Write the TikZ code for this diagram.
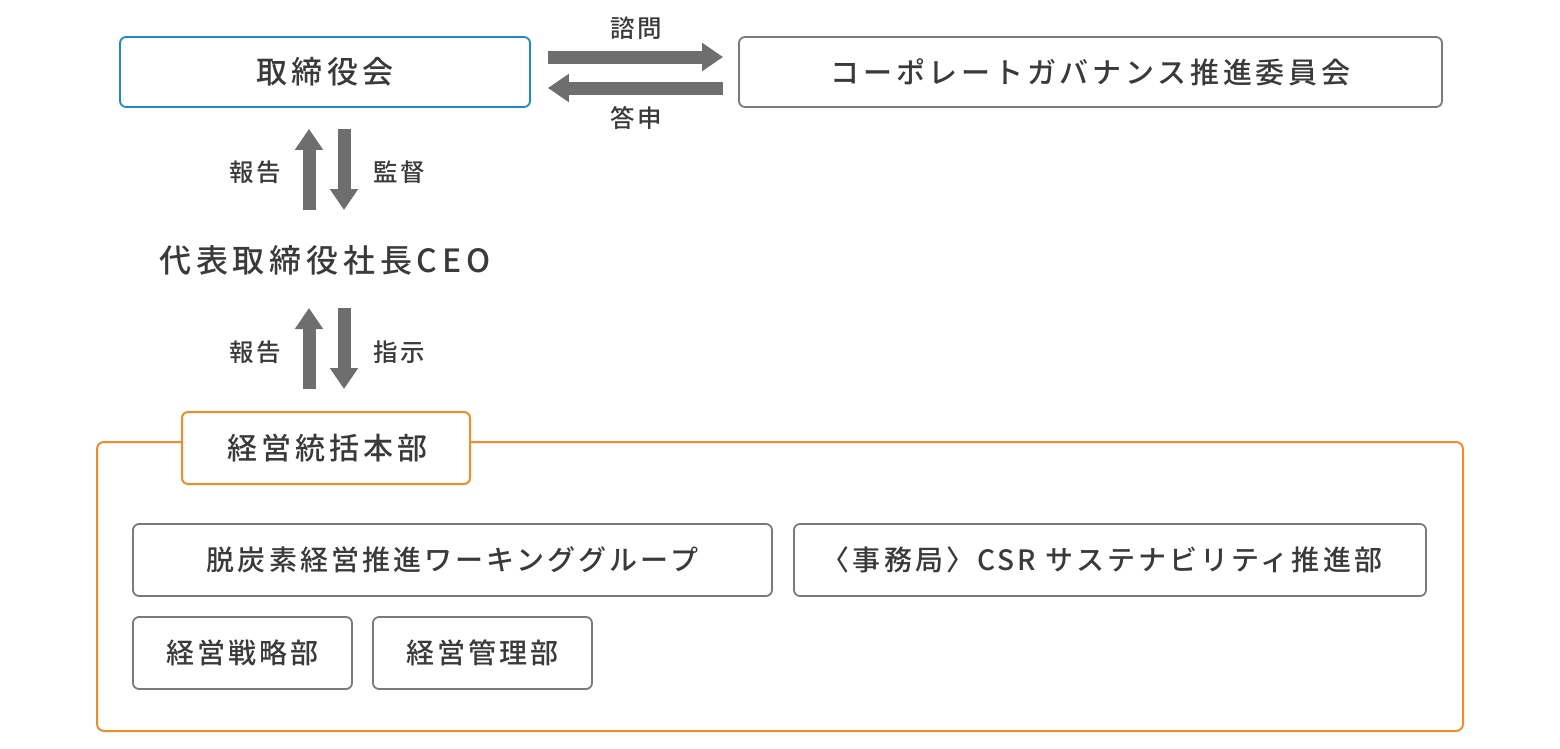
\documentclass[tikz,border=0pt]{standalone}
\usepackage{fontspec}
\setmainfont{Noto Sans CJK JP}[UprightFont=* Medium]
\newfontfamily\jpf{Noto Sans CJK JP}[UprightFont=* Medium]
\usetikzlibrary{arrows.meta,calc}
\definecolor{txt}{HTML}{3A3A3A}
\definecolor{bordergray}{HTML}{7A7A7A}
\definecolor{arrowgray}{HTML}{6E6E6E}
\definecolor{blueb}{HTML}{1E88C8}
\definecolor{orangeb}{HTML}{F08C2C}
\newcommand\jfont[2]{\jpf\addfontfeatures{LetterSpace=#2}\fontsize{#1}{#1}\selectfont}
\begin{document}
\begin{tikzpicture}[x=1pt,y=-1pt,
  box/.style={draw=bordergray, line width=1.8pt, rounded corners=6pt, minimum height=72pt, inner sep=0pt, text=txt, fill=white, font=\jfont{28pt}{11}},
  sbox/.style={box, font=\jfont{28pt}{11}},
  lbl/.style={text=txt, inner sep=0pt, font=\jfont{24.5pt}{10}},
  fat/.style={draw=arrowgray, line width=13pt, -{Triangle[length=21pt,width=27pt]}},
  ]
\useasboundingbox (0,0) rectangle (1560,748);
% top boxes
\node[box, draw=blueb, minimum width=410pt, minimum height=70pt, font=\jfont{31pt}{13}] (tb) at (325,72) {取締役会};
\node[box, minimum width=703pt, minimum height=70pt, font=\jfont{29pt}{13}] (cg) at (1090.5,72) {コーポレートガバナンス推進委員会};
\draw[fat] ($(tb.east)+(17,-15)$) -- ($(cg.west)+(-15,-15)$);
\draw[fat] ($(cg.west)+(-15,16)$) -- ($(tb.east)+(17,16)$);
\node[lbl] (q1) at (636,28) {諮問};
\node[lbl] (q2) at (636,118) {答申};
% CEO
\node[text=txt, inner sep=0pt, font=\jfont{32pt}{15}] (ceo) at (325,260) {代表取締役社長CEO};
\draw[fat] ($(ceo)+(-16,-50)$) -- ($(tb.south)+(-16,21)$);
\draw[fat] ($(tb.south)+(19,21)$) -- ($(ceo)+(19,-50)$);
\node[lbl] (r1) at (255,172) {報告};
\node[lbl] (s1) at (399,172) {監督};
% orange frame
\node[draw=orangeb, line width=2pt, rounded corners=7pt, minimum width=1366pt, minimum height=289pt, inner sep=0pt] (fr) at (780,586.5) {};
\node[box, draw=orangeb, line width=2pt, minimum width=288pt, font=\jfont{30pt}{13}] (hq) at (326,448) {\hspace*{3pt}経営統括本部};
\draw[fat] ($(hq.north)+(-17,-22)$) -- ($(ceo)+(-16,48)$);
\draw[fat] ($(ceo)+(19,48)$) -- ($(hq.north)+(18,-22)$);
\node[lbl] (r2) at (255,352) {報告};
\node[lbl] (s2) at (399,352) {指示};
% inner boxes
\node[sbox, minimum width=639pt] (wg) at (452.5,560) {脱炭素経営推進ワーキンググループ};
\node[sbox, minimum width=632pt] (csr) at (1110,560) {\hspace*{-16pt}〈事務局〉CSR サステナビリティ推進部};
\node[sbox, minimum width=219pt] (ks) at (242.5,653) {経営戦略部};
\node[sbox, minimum width=219pt] (kk) at (482.5,653) {経営管理部};
\end{tikzpicture}
\end{document}
